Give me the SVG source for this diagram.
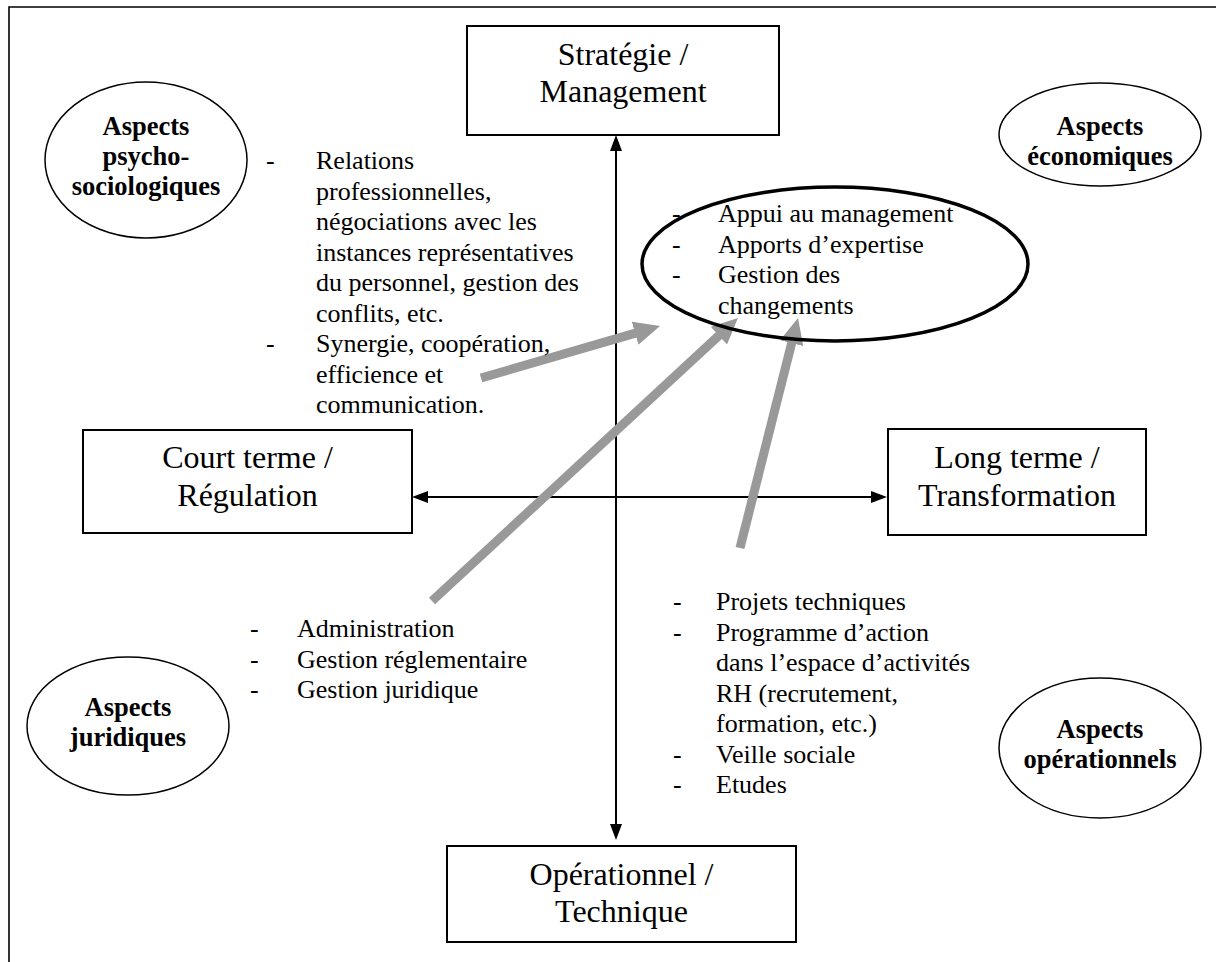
<svg xmlns="http://www.w3.org/2000/svg" width="1216" height="962" viewBox="0 0 1216 962">
<style>
  .box { fill: #fff; stroke: #000; stroke-width: 2; }
  .ell { fill: #fff; stroke: #000; stroke-width: 1.5; }
  .ellbig { fill: none; stroke: #000; stroke-width: 3.5; }
  .title { font-family: "Liberation Serif", "Times New Roman", serif; font-size: 32px; fill: #000; text-anchor: middle; }
  .lab { font-family: "Liberation Serif", "Times New Roman", serif; font-size: 26.5px; font-weight: bold; fill: #000; text-anchor: middle; }
  .txt { font-family: "Liberation Serif", "Times New Roman", serif; font-size: 26px; fill: #000; }
  .axis { stroke: #000; stroke-width: 2; fill: none; }
  .gray { stroke: #999; stroke-width: 9; fill: none; }
</style>
<defs>
  <marker id="ah" markerUnits="userSpaceOnUse" markerWidth="16" markerHeight="12" viewBox="0 0 16 12" refX="3" refY="6" orient="auto-start-reverse">
    <path d="M0,0 L16,6 L0,12 z" fill="#000"/>
  </marker>
  <marker id="gh" markerUnits="userSpaceOnUse" markerWidth="26" markerHeight="24" viewBox="0 0 26 24" refX="4" refY="12" orient="auto">
    <path d="M0,0 L26,12 L0,24 z" fill="#999"/>
  </marker>
</defs>
<rect x="0" y="0" width="1216" height="962" fill="#fff"/>
<path d="M9,962 L9,7 L1216,7" fill="none" stroke="#000" stroke-width="1.6"/>

<g id="connectors">
  <line class="axis" x1="616" y1="148" x2="616" y2="827" marker-start="url(#ah)" marker-end="url(#ah)"/>
  <line class="axis" x1="425" y1="497" x2="874" y2="497" marker-start="url(#ah)" marker-end="url(#ah)"/>
  <line class="gray" x1="481" y1="378" x2="638.9" y2="332.1" marker-end="url(#gh)"/>
  <line class="gray" x1="432" y1="601" x2="721.8" y2="332.9" marker-end="url(#gh)"/>
  <line class="gray" x1="740" y1="548" x2="792.6" y2="339.3" marker-end="url(#gh)"/>
</g>

<g id="strategie">
  <rect class="box" x="467" y="26" width="312" height="109"/>
  <text class="title" x="623" y="65">Stratégie /</text>
  <text class="title" x="623" y="102">Management</text>
</g>
<g id="operationnel">
  <rect class="box" x="447" y="846" width="349" height="96"/>
  <text class="title" x="621.5" y="885">Opérationnel /</text>
  <text class="title" x="621.5" y="922">Technique</text>
</g>
<g id="courtterme">
  <rect class="box" x="83" y="430" width="329" height="103"/>
  <text class="title" x="247.5" y="468">Court terme /</text>
  <text class="title" x="247.5" y="506">Régulation</text>
</g>
<g id="longterme">
  <rect class="box" x="888" y="429" width="258" height="106"/>
  <text class="title" x="1017" y="468">Long terme /</text>
  <text class="title" x="1017" y="506">Transformation</text>
</g>

<g id="psycho">
  <ellipse class="ell" cx="146" cy="160" rx="101" ry="78"/>
  <text class="lab" x="146" y="135">Aspects</text>
  <text class="lab" x="146" y="165">psycho-</text>
  <text class="lab" x="146" y="195">sociologiques</text>
</g>
<g id="economiques">
  <ellipse class="ell" cx="1100" cy="134.5" rx="101" ry="51.5"/>
  <text class="lab" x="1100" y="135">Aspects</text>
  <text class="lab" x="1100" y="165">économiques</text>
</g>
<g id="juridiques">
  <ellipse class="ell" cx="128" cy="726" rx="101" ry="69"/>
  <text class="lab" x="128" y="716">Aspects</text>
  <text class="lab" x="128" y="746">juridiques</text>
</g>
<g id="operationnels">
  <ellipse class="ell" cx="1100" cy="748" rx="101" ry="70"/>
  <text class="lab" x="1100" y="738">Aspects</text>
  <text class="lab" x="1100" y="768">opérationnels</text>
</g>

<g id="relations-list">
  <text class="txt" x="266" y="169">-</text>
  <text class="txt" x="316" y="169">Relations</text>
  <text class="txt" x="316" y="199.5">professionnelles,</text>
  <text class="txt" x="316" y="230">négociations avec les</text>
  <text class="txt" x="316" y="260.5">instances représentatives</text>
  <text class="txt" x="316" y="291">du personnel, gestion des</text>
  <text class="txt" x="316" y="321.5">conflits, etc.</text>
  <text class="txt" x="266" y="352">-</text>
  <text class="txt" x="316" y="352">Synergie, coopération,</text>
  <text class="txt" x="316" y="382.5">efficience et</text>
  <text class="txt" x="316" y="413">communication.</text>
</g>

<g id="appui">
  <ellipse class="ellbig" cx="835" cy="264" rx="193" ry="77"/>
  <text class="txt" x="672" y="222">-</text>
  <text class="txt" x="718" y="222">Appui au management</text>
  <text class="txt" x="672" y="252.5">-</text>
  <text class="txt" x="718" y="252.5">Apports d’expertise</text>
  <text class="txt" x="672" y="283">-</text>
  <text class="txt" x="718" y="283">Gestion des</text>
  <text class="txt" x="718" y="313.5">changements</text>
</g>

<g id="admin-list">
  <text class="txt" x="250" y="637">-</text>
  <text class="txt" x="297" y="637">Administration</text>
  <text class="txt" x="250" y="667.5">-</text>
  <text class="txt" x="297" y="667.5">Gestion réglementaire</text>
  <text class="txt" x="250" y="698">-</text>
  <text class="txt" x="297" y="698">Gestion juridique</text>
</g>

<g id="projets-list">
  <text class="txt" x="673" y="610">-</text>
  <text class="txt" x="716" y="610">Projets techniques</text>
  <text class="txt" x="673" y="640.5">-</text>
  <text class="txt" x="716" y="640.5">Programme d’action</text>
  <text class="txt" x="716" y="671">dans l’espace d’activités</text>
  <text class="txt" x="716" y="701.5">RH (recrutement,</text>
  <text class="txt" x="716" y="732">formation, etc.)</text>
  <text class="txt" x="673" y="762.5">-</text>
  <text class="txt" x="716" y="762.5">Veille sociale</text>
  <text class="txt" x="673" y="793">-</text>
  <text class="txt" x="716" y="793">Etudes</text>
</g>
</svg>
